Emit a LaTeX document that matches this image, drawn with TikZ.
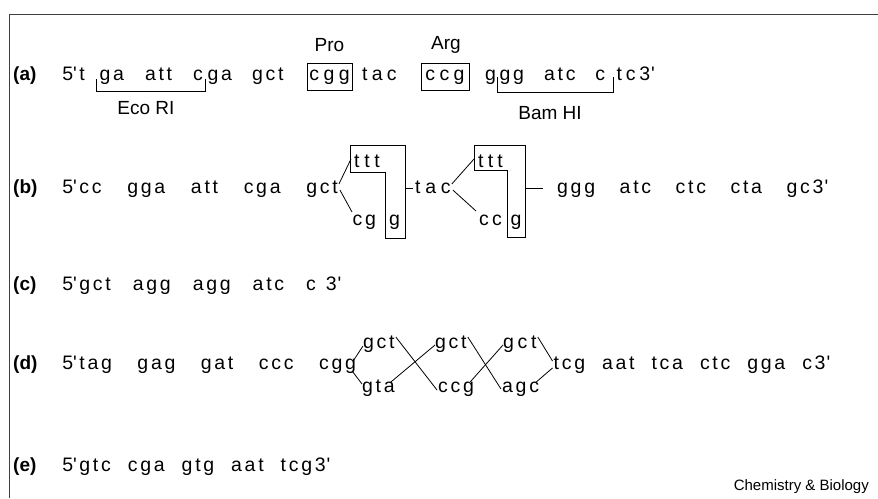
\documentclass[tikz,border=0pt]{standalone}
\usepackage{fontspec}
\setmainfont{Liberation Sans}
\newfontfamily\sqf{Liberation Sans}
\usetikzlibrary{calc}
\newcommand\sqfont{\sqf\fontsize{19.5}{22}\selectfont}
\newcommand\sqbold{\sqf\bfseries\fontsize{19}{22}\selectfont}
\newcommand\annfont{\sqf\fontsize{19}{22}\selectfont}
\newcommand\pr{\textquotesingle}
\newdimen\trkls \trkls=2.7pt
\newdimen\trkgp \trkgp=24pt
\def\trk#1{\trkA#1\relax}
\def\trkA#1{\let\trknxt\trkB\ifx\relax#1\let\trknxt\relax\else\ifx/#1\hspace{\trkgp}\let\trknxt\trkA\else#1\fi\fi\trknxt}
\def\trkB#1{\let\trknxt\trkB\ifx\relax#1\let\trknxt\relax\else\ifx/#1\hspace{\trkgp}\let\trknxt\trkA\else\kern\trkls#1\fi\fi\trknxt}
\begin{document}
\begin{tikzpicture}[x=1pt,y=-1pt,
  seq/.style={font=\sqfont, inner sep=0pt, anchor=base west},
  lbl/.style={font=\sqbold, inner sep=0pt, anchor=base west},
  annot/.style={font=\annfont, inner sep=0pt},
  cbox/.style={draw, line width=0.8pt, inner sep=0pt, font=\sqfont, text height=10.5pt, text depth=3.5pt, minimum height=27pt},
  ln/.style={line width=0.8pt}]
\useasboundingbox (0,0) rectangle (878,498);
\draw[line width=1pt, black!75] (9,498) -- (9,14) -- (878,14);
% row a
\node[lbl] (la) at (13,80) {(a)};
\node[seq] (a1) at (62.2,80) {5\pr\kern2.5pt t};
\node[seq] (a2) at (99.5,80) {\trkgp=21pt\trk{ga/att/c}};
\node[seq] (a3) at (207.5,80) {\trkgp=20pt\trk{ga/gct}};
\node[cbox, minimum width=45pt] (pro) at (329.5,76.5) {\trkls=4.4pt\trk{cgg}};
\node[annot] (prol) at (329.5,45) {Pro};
\node[seq] (a4) at (362,80) {\trkls=4.2pt\trk{tac}};
\node[cbox, minimum width=48pt] (arg) at (445,76.5) {\trkls=4.4pt\trk{ccg}};
\node[annot] (argl) at (446,45) {Arg};
\node[seq] (a5) at (485,80) {g};
\node[seq] (a6) at (499.5,80) {\trkgp=20pt\trk{gg/atc/c}};
\node[seq] (a7) at (616.5,80) {\trkls=3.7pt\trk{tc3}\kern1pt\pr};
\coordinate (eco1) at (96,79);
\coordinate (eco2) at (205,79);
\draw[ln] (eco1) -- ++(0,12) -| (eco2);
\node[annot] (ecol) at (146,108) {Eco RI};
\coordinate (bam1) at (497,77);
\coordinate (bam2) at (613,77);
\draw[ln] (bam1) -- ++(0,15) -| (bam2);
\node[annot] (baml) at (550,113) {Bam HI};
% row b
\node[lbl] (lb) at (13,193) {(b)};
\node[seq] (b1) at (62.2,193) {5\pr\kern2.5pt\trkgp=25.7pt\trk{cc/gga/att/cga/gct}};
\draw[ln] (350,145) -- (405,145) -- (405,238) -- (385,238) -- (385,172) -- (350,172) -- cycle;
\node[seq] (b1t) at (354,167) {\trkls=4.7pt\trk{ttt}};
\node[seq] (b1c) at (352.5,225) {\trk{cg}};
\node[seq] (b1g) at (389,225) {g};
\coordinate (b1up) at (351,159);
\coordinate (b1dn) at (352,212);
\draw[ln] ([shift={(1,-9)}]b1.base east) -- (b1up);
\draw[ln] ([shift={(2,-3)}]b1.base east) -- (b1dn);
\node[seq] (b2) at (415,193) {\trkls=4.7pt\trk{tac}};
\coordinate (d1a) at (405,188.5);
\draw[ln] (d1a) -- ([shift={(-2,-4.5)}]b2.base west);
\coordinate (b2up) at (474,159);
\coordinate (b2dn) at (476,211);
\draw[ln] ([shift={(1,-9)}]b2.base east) -- (b2up);
\draw[ln] ([shift={(2,-3)}]b2.base east) -- (b2dn);
\draw[ln] (474,145) -- (525,145) -- (525,237) -- (507,237) -- (507,170) -- (474,170) -- cycle;
\node[seq] (b2t) at (478,167) {\trkls=4.2pt\trk{ttt}};
\node[seq] (b2c) at (479,225) {\trkls=3.2pt\trk{cc}};
\node[seq] (b2g) at (510.5,225) {g};
\node[seq] (b3) at (557,193) {\trkgp=24.6pt\trk{ggg/atc/ctc/cta/gc3}\kern1pt\pr};
\coordinate (d2a) at (525,188.5);
\draw[ln] (d2a) -- ([shift={(-14,-4.5)}]b3.base west);
% row c
\node[lbl] (lc) at (13,290) {(c)};
\node[seq] (c1) at (62.2,290) {5\pr\kern2.5pt\trkgp=22pt\trk{gct/agg/agg/atc/c}\hspace{10pt}3\kern1pt\pr};
% row d
\node[lbl] (ld) at (13,369) {(d)};
\node[seq] (d1) at (62.2,369) {5\pr\kern2.5pt\trkgp=25.5pt\trk{tag/gag/gat/ccc/cgg}};
\node[seq] (du1) at (363,348) {\trk{gct}};
\node[seq] (du2) at (435,348) {\trk{gct}};
\node[seq] (du3) at (503,348) {\trkls=3.7pt\trk{gct}};
\node[seq] (dl1) at (362,392) {\trk{gta}};
\node[seq] (dl2) at (438,392) {\trk{ccg}};
\node[seq] (dl3) at (502,392) {\trk{agc}};
\node[seq] (d2) at (553.5,369) {\trkgp=17pt\trk{tcg/aat/tca/ctc/gga/c3}\kern1pt\pr};
\draw[ln] ([shift={(-3,-8)}]d1.base east) -- ([shift={(0,-2)}]du1.base west);
\draw[ln] ([shift={(-4,2)}]d1.base east) -- ([shift={(0,-8)}]dl1.base west);
\draw[ln] ([shift={(1,-11)}]du1.base east) -- ([shift={(-1,-2)}]dl2.base west);
\draw[ln] ([shift={(-4,-10)}]dl1.base east) -- ([shift={(0,-3)}]du2.base west);
\draw[ln] ([shift={(1,-11)}]du2.base east) -- ([shift={(-1,-3)}]dl3.base west);
\draw[ln] ([shift={(-4,-10)}]dl2.base east) -- ([shift={(0,-3)}]du3.base west);
\draw[ln] ([shift={(1,-11)}]du3.base east) -- ([shift={(-1,-8)}]d2.base west);
\draw[ln] ([shift={(-3,-10)}]dl3.base east) -- ([shift={(-1,-1)}]d2.base west);
% row e
\node[lbl] (le) at (13,471) {(e)};
\node[seq] (e1) at (62.2,471) {5\pr\kern2.5pt\trkgp=17pt\trk{gtc/cga/gtg/aat/tcg3}\kern1pt\pr};
\node[font=\fontsize{15}{18}\selectfont, inner sep=0pt, anchor=base east] (cb) at (869,490) {Chemistry \& Biology};
\end{tikzpicture}
\end{document}
